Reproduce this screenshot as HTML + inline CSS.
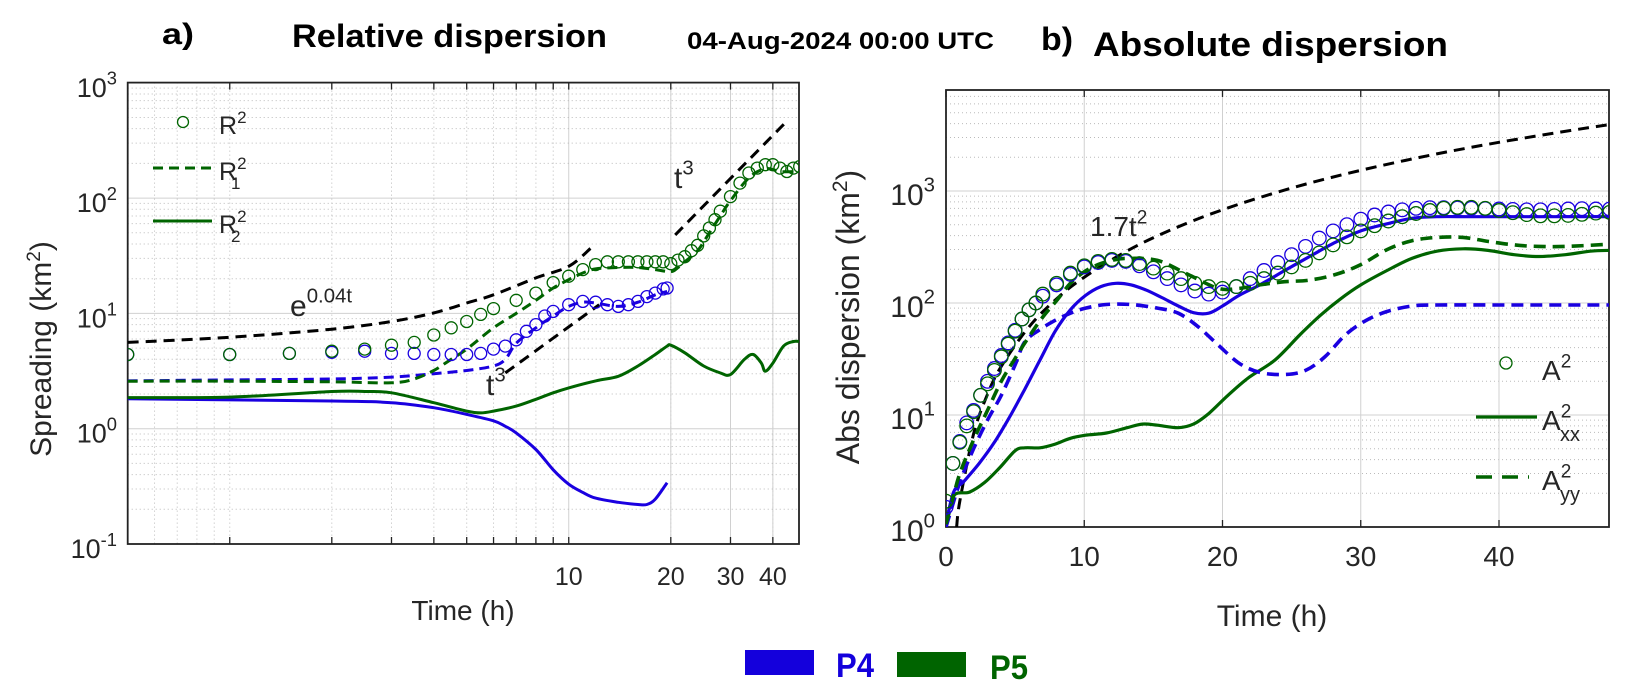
<!DOCTYPE html>
<html><head><meta charset="utf-8">
<style>
html,body{margin:0;padding:0;background:#fff;}
svg{display:block;font-family:"Liberation Sans",Arial,sans-serif;}
</style></head>
<body>
<svg id="chart" width="1633" height="689" viewBox="0 0 1633 689" xmlns="http://www.w3.org/2000/svg">
  <g font-weight="bold" fill="#000">
    <text x="162" y="44" font-size="30" textLength="32" lengthAdjust="spacingAndGlyphs">a)</text>
    <text x="292" y="47" font-size="32" textLength="315" lengthAdjust="spacingAndGlyphs">Relative dispersion</text>
    <text x="687" y="49" font-size="24" textLength="307" lengthAdjust="spacingAndGlyphs">04-Aug-2024 00:00 UTC</text>
    <text x="1041" y="50" font-size="32" textLength="32" lengthAdjust="spacingAndGlyphs">b)</text>
    <text x="1093" y="56" font-size="34" textLength="355" lengthAdjust="spacingAndGlyphs">Absolute dispersion</text>
  </g>
  <g id="left"></g>
  <g id="right"></g>
  <g font-weight="bold">
    <rect x="745" y="650" width="69" height="25" fill="#1400dc"/>
    <text x="836" y="677" font-size="34" fill="#1400dc" textLength="38" lengthAdjust="spacingAndGlyphs">P4</text>
    <rect x="897" y="652" width="69" height="25" fill="#006400"/>
    <text x="990" y="679" font-size="34" fill="#006400" textLength="38" lengthAdjust="spacingAndGlyphs">P5</text>
  </g>
</svg>
<script>
// ===== Panel a data (relative dispersion, log-log) =====
const tA = [0.5,1,1.5,2,2.5,3,3.5,4,4.5,5,5.5,6,7,8,9,10,11,12,13,14,15,16,17,18,19,20,21,22,23,24,25,26,27,28,30,32,34,36,38,40,42,44,46,48];
const R2_P5 = [4.4,4.4,4.5,4.7,4.9,5.3,5.6,6.5,7.5,8.5,9.8,11,13,15,18.5,21,24,26.5,28,28,28,28,28,28,28,27,29,31,35,39,47,55,65,77,103,135,165,182,195,195,182,170,182,188];
const tB = [0.5,1,1.5,2,2.5,3,3.5,4,4.5,5,5.5,6,6.5,7,7.5,8,8.5,9,10,11,12,13,14,15,16,17,18,19,19.5];
const R2_P4 = [4.4,4.4,4.5,4.6,4.7,4.5,4.5,4.4,4.4,4.4,4.5,4.9,5.2,5.9,7,8,9.5,10.4,11.9,12.7,12.5,11.9,11.5,11.9,12.7,14,15,16.3,16.6];
const tR1g = [0.5,1,2,3,3.5,4,4.5,5,6,7,8,9,10,11,12,14,16,18,20,21,22,24,26,28,30,34,38,42,46,48];
const R1_P5 = [2.58,2.58,2.55,2.5,2.7,3.2,4,4.9,7.5,10,13,16.6,19.6,22.4,24.3,25,25,24,23,25,28,35,50,70,95,150,180,170,170,175];
const tR1b = [0.5,1,2,3,4,5,6,6.5,7,8,9,10,11,12,14,16,18,19.5];
const R1_P4 = [2.6,2.65,2.7,2.8,3.0,3.2,3.5,4.0,5.5,7.5,9.5,11.5,12.5,12.3,11.5,12.5,14.5,15.5];
const tR2g = [0.5,1,2,2.5,3,4,5,5.5,6,7,8,9,10,12,14,16,18,19.5,20,22,25,28,30,33,35,37,38,40,43,46,48];
const R2g = [1.86,1.88,2.1,2.1,2.05,1.68,1.42,1.37,1.42,1.57,1.8,2.05,2.26,2.6,2.85,3.5,4.4,5.2,5.3,4.55,3.5,3.05,2.95,4.0,4.4,3.7,3.15,3.7,5.2,5.7,5.7];
const tR2b = [0.5,2,3,4,5,6,6.5,7,8,9,10,11,12,14,16,17,18,19.5];
const R2b = [1.82,1.74,1.68,1.52,1.33,1.17,1.05,0.92,0.66,0.44,0.33,0.28,0.25,0.23,0.22,0.22,0.245,0.34];
const guideExpT = [0.5,1,2,3,4,5,6,8,10,11.6];
const guideExpV = [5.6,6.2,7.3,8.5,10.1,12.3,14.5,20.3,25.6,36.7];
const guideT3aT = [6.5,12.3], guideT3aV = [3.05,11.9];
const guideT3bT = [20.6,44.3], guideT3bV = [48,475];

// ===== Panel b data (absolute dispersion) =====
const tC = [0,0.5,1,1.5,2,2.5,3,3.5,4,4.5,5,5.5,6,6.5,7,8,9,10,11,12,13,14,15,16,17,18,19,20,21,22,23,24,25,26,27,28,29,30,31,32,33,34,35,36,37,38,39,40,41,42,43,44,45,46,47,48];
const A2_P5 = [1.7,3.7,5.7,8,10.7,15,19,25,33,43,56,72,87,100,120,150,185,215,235,245,240,225,205,185,165,150,140,135,140,150,165,185,210,240,280,330,390,440,490,540,590,630,670,700,715,715,700,670,640,615,600,600,605,620,635,645];
const A2_P4 = [1.5,3.7,5.8,8.5,11,15,20,26,34,44,57,72,87,100,115,145,180,210,230,240,235,215,190,165,145,128,120,125,140,165,195,230,270,320,380,440,500,560,610,650,680,700,710,710,705,700,695,690,685,680,680,685,690,695,690,690];
const tXb = [0,0.55,1.3,2.4,3.5,4.6,5.7,6.8,7.9,9,10.1,11.2,12.3,13.4,14.5,15.6,16.8,17.9,19,20,21.2,22.7,24.5,26.3,28.2,30,31.9,33.7,35.5,38,42,45,48];
const Axx_P4 = [1.06,2.05,2.56,3.7,5.7,9.6,17,31,56,87,117,140,150,145,130,112,94,82,81,94,117,145,195,260,350,440,510,570,590,590,590,590,590];
const tYb = [0,1,2,3,4,5,5.7,6.8,7.9,9,10.1,11.6,13.4,15.3,16.8,18.2,19.7,21.2,22.7,24.5,26,27.4,28.9,30.4,31.9,33.7,35.5,40,44,48];
const Ayy_P4 = [1,2.5,5,9,15,28,45,58,70,81,90,97,97,90,81,62,42,29,24,23,25,33,52,70,84,94,96,96,96,96];
const tXg = [0,0.55,1.7,2.8,3.9,5,5.7,6.8,7.9,9,10.1,11.6,13.1,14.2,15.3,16.8,17.9,19,20.4,21.9,23.8,25.6,27.1,28.5,30,31.9,33.7,35.5,37.4,39.2,41.1,42.9,44.8,46.6,48];
const Axx_P5 = [1.06,1.9,2.05,2.5,3.4,4.8,5.1,5.1,5.5,6.2,6.6,6.9,7.7,8.3,8.1,7.7,8.3,10.3,15,21.6,31,52,78,108,145,195,250,290,305,295,270,260,270,290,295];
const tYg = [0,0.5,1,2,3,4,5,6,7,8,9,10,11,12,13.1,15.3,17.5,19.7,21.2,22.7,24.5,26.3,28.2,30,31.9,33.7,35.5,37.4,39.2,41.1,42.9,44.8,48];
const Ayy_P5 = [1.06,1.8,3,6,11,20,32,50,75,105,150,190,220,240,250,240,180,135,135,145,155,160,180,220,300,360,385,385,355,330,320,320,335];
const guideT2T = [0.77,1,2,3,4,6,8,10,13,16,20,25,30,35,40,45,48];
const guideT2V = [1,1.7,6.8,15.3,27.2,61.2,109,170,287,435,680,1063,1530,2083,2720,3443,3917];

const NS = "http://www.w3.org/2000/svg";
const BLUE = "#1a00e0", GREEN = "#006400", TXT = "#262626";

function mk(parent, tag, attrs) {
  const e = document.createElementNS(NS, tag);
  for (const k in attrs) e.setAttribute(k, attrs[k]);
  parent.appendChild(e);
  return e;
}
function smoothPath(pts) {
  if (pts.length < 2) return "";
  let d = "M" + pts[0][0].toFixed(1) + "," + pts[0][1].toFixed(1);
  for (let i = 0; i < pts.length - 1; i++) {
    const p0 = pts[Math.max(0, i - 1)], p1 = pts[i], p2 = pts[i + 1], p3 = pts[Math.min(pts.length - 1, i + 2)];
    const c1x = p1[0] + (p2[0] - p0[0]) / 6, c1y = p1[1] + (p2[1] - p0[1]) / 6;
    const c2x = p2[0] - (p3[0] - p1[0]) / 6, c2y = p2[1] - (p3[1] - p1[1]) / 6;
    d += " C" + c1x.toFixed(1) + "," + c1y.toFixed(1) + " " + c2x.toFixed(1) + "," + c2y.toFixed(1) + " " + p2[0].toFixed(1) + "," + p2[1].toFixed(1);
  }
  return d;
}
function drawLine(g, xs, vs, fx, fy, color, width, dash, name) {
  const pts = xs.map((t, i) => [fx(t), fy(vs[i])]);
  const p = mk(g, "path", {d: smoothPath(pts), fill: "none", stroke: color, "stroke-width": width, "stroke-dasharray": dash || "none"});
  
  
  return p;
}
function drawCircles(g, xs, vs, fx, fy, color, r, name) {
  const grp = mk(g, "g", {});
  
  
  xs.forEach((t, i) => {
    const c = mk(grp, "circle", {cx: fx(t).toFixed(1), cy: fy(vs[i]).toFixed(1), r: r, fill: "none", stroke: color, "stroke-width": 1.3});
    
    
  });
}
function powLabel(g, x, y, base, exp, anchor, size, name) {
  const t = mk(g, "text", {x: x, y: y, "font-size": size, fill: TXT, "text-anchor": anchor});
  
  
  const a = mk(t, "tspan", {}); a.textContent = base;
  const b = mk(t, "tspan", {dy: -size * 0.45, "font-size": size * 0.68}); b.textContent = exp;
  return t;
}

// ================= Panel a =================
(function () {
  const g = document.getElementById("left");
  const X0 = 127.7, X1 = 799, Y0 = 544, Y1 = 82.6;
  const xL = t => X0 + 339 * (Math.log10(t) - Math.log10(0.5));
  const yL = v => Y0 - 115.3 * (Math.log10(v) + 1);
  const clip = mk(g, "clipPath", {id: "clipL"});
  mk(clip, "rect", {x: X0, y: Y1, width: X1 - X0, height: Y0 - Y1});
  // grid
  const grid = mk(g, "g", {});
  
  
  const xminor = [0.6,0.7,0.8,0.9,1,2,3,4,5,6,7,8,9,20,30,40];
  xminor.forEach(t => mk(grid, "line", {x1: xL(t), x2: xL(t), y1: Y1, y2: Y0, stroke: "#bbb", "stroke-width": 1, "stroke-dasharray": "1,3"}));
  [10,20,30,40].forEach(t => mk(grid, "line", {x1: xL(t), x2: xL(t), y1: Y1, y2: Y0, stroke: "#d0d0d0", "stroke-width": 1}));
  for (let e = -1; e < 3; e++) for (let k = 2; k <= 9; k++) {
    const v = k * Math.pow(10, e);
    mk(grid, "line", {x1: X0, x2: X1, y1: yL(v), y2: yL(v), stroke: "#bbb", "stroke-width": 1, "stroke-dasharray": "1,3"});
  }
  [1, 10, 100].forEach(v => mk(grid, "line", {x1: X0, x2: X1, y1: yL(v), y2: yL(v), stroke: "#d0d0d0", "stroke-width": 1}));
  // axes box
  const box = mk(g, "rect", {x: X0, y: Y1, width: X1 - X0, height: Y0 - Y1, fill: "none", stroke: "#222", "stroke-width": 1.8});
  
  
  [1,2,3,4,5,6,7,8,9,10,20,30,40].forEach(t => {
    mk(g, "line", {x1: xL(t), x2: xL(t), y1: Y0, y2: Y0 - 7, stroke: "#222", "stroke-width": 1.3});
    mk(g, "line", {x1: xL(t), x2: xL(t), y1: Y1, y2: Y1 + 7, stroke: "#222", "stroke-width": 1.3});
  });
  // tick labels
  const xticks = [10, 20, 30, 40];
  xticks.forEach(t => {
    const tx = mk(g, "text", {x: xL(t), y: 585, "font-size": 25, fill: TXT, "text-anchor": "middle"});
    tx.textContent = t;
    
    
  });
  const yexp = [-1, 0, 1, 2, 3];
  yexp.forEach(e => powLabel(g, 117, yL(Math.pow(10, e)) + 14, "10", e, "end", 27, "y-tick-label"));
  const xt = mk(g, "text", {x: 463, y: 620, "font-size": 28, fill: TXT, "text-anchor": "middle"});
  xt.textContent = "Time (h)";
  
  
  const yt = mk(g, "text", {transform: "translate(51,349) rotate(-90)", "font-size": 30, fill: TXT, "text-anchor": "middle"});
  
  
  mk(yt, "tspan", {}).textContent = "Spreading (km";
  mk(yt, "tspan", {dy: -11, "font-size": 19}).textContent = "2";
  mk(yt, "tspan", {dy: 11}).textContent = ")";

  const plot = mk(g, "g", {"clip-path": "url(#clipL)"});
  
  
  drawLine(plot, tR2b, R2b, xL, yL, BLUE, 3, null, "r2-2-p4-line");
  drawLine(plot, tR2g, R2g, xL, yL, GREEN, 3, null, "r2-2-p5-line");
  drawLine(plot, tR1b, R1_P4, xL, yL, BLUE, 3, "10,6", "r1-2-p4-line");
  drawLine(plot, tR1g, R1_P5, xL, yL, GREEN, 3, "10,6", "r1-2-p5-line");
  drawLine(plot, guideExpT, guideExpV, xL, yL, "#000", 3, "11,7", "exp-guide-line");
  drawLine(plot, guideT3aT, guideT3aV, xL, yL, "#000", 3, "11,7", "t3-guide-lower");
  drawLine(plot, guideT3bT, guideT3bV, xL, yL, "#000", 3, "11,7", "t3-guide-upper");
  drawCircles(plot, tB, R2_P4, xL, yL, BLUE, 6, "r2-p4-markers");
  drawCircles(plot, tA, R2_P5, xL, yL, GREEN, 6, "r2-p5-markers");
  // annotations
  const ann = mk(g, "g", {"font-size": 28, fill: "#111"});
  
  
  powLabel(ann, 290, 316, "e", "0.04t", "start", 30, "exp-annotation");
  powLabel(ann, 486, 395, "t", "3", "start", 30, "t3-annotation-lower");
  powLabel(ann, 674, 188, "t", "3", "start", 30, "t3-annotation-upper");
  // legend
  const lg = mk(g, "g", {});
  
  
  mk(lg, "circle", {cx: 183, cy: 122, r: 5.5, fill: "none", stroke: GREEN, "stroke-width": 1.3});
  powLabel(lg, 219, 134, "R", "2", "start", 25, "legend-r2");
  mk(lg, "line", {x1: 153, x2: 212, y1: 168, y2: 168, stroke: GREEN, "stroke-width": 3, "stroke-dasharray": "10,6"});
  const l1 = powLabel(lg, 219, 180, "R", "2", "start", 25, "legend-r1-2");
  mk(lg, "text", {x: 231, y: 189, "font-size": 17, fill: TXT}).textContent = "1";
  mk(lg, "line", {x1: 153, x2: 212, y1: 221, y2: 221, stroke: GREEN, "stroke-width": 3});
  powLabel(lg, 219, 233, "R", "2", "start", 25, "legend-r2-2");
  mk(lg, "text", {x: 231, y: 242, "font-size": 17, fill: TXT}).textContent = "2";
})();

// ================= Panel b =================
(function () {
  const g = document.getElementById("right");
  const X0 = 946, X1 = 1609, Y0 = 527, Y1 = 90;
  const xR = t => X0 + 13.825 * t;
  const yR = v => Y0 - 112 * Math.log10(v);
  const clip = mk(g, "clipPath", {id: "clipR"});
  mk(clip, "rect", {x: X0, y: Y1, width: X1 - X0, height: Y0 - Y1});
  const grid = mk(g, "g", {});
  
  
  for (let e = 0; e < 4; e++) for (let k = 2; k <= 9; k++) {
    const v = k * Math.pow(10, e);
    if (yR(v) < Y1) continue;
    mk(grid, "line", {x1: X0, x2: X1, y1: yR(v), y2: yR(v), stroke: "#bbb", "stroke-width": 1, "stroke-dasharray": "1,3"});
  }
  [10, 100, 1000].forEach(v => mk(grid, "line", {x1: X0, x2: X1, y1: yR(v), y2: yR(v), stroke: "#d0d0d0", "stroke-width": 1}));
  [10, 20, 30, 40].forEach(t => mk(grid, "line", {x1: xR(t), x2: xR(t), y1: Y1, y2: Y0, stroke: "#d0d0d0", "stroke-width": 1}));
  const box = mk(g, "rect", {x: X0, y: Y1, width: X1 - X0, height: Y0 - Y1, fill: "none", stroke: "#222", "stroke-width": 1.8});
  
  
  const xticks = [0, 10, 20, 30, 40];
  xticks.forEach(t => {
    mk(g, "line", {x1: xR(t), x2: xR(t), y1: Y0, y2: Y0 - 7, stroke: "#222", "stroke-width": 1.3});
    mk(g, "line", {x1: xR(t), x2: xR(t), y1: Y1, y2: Y1 + 7, stroke: "#222", "stroke-width": 1.3});
    const tx = mk(g, "text", {x: xR(t), y: 566, "font-size": 28, fill: TXT, "text-anchor": "middle"});
    tx.textContent = t;
    
    
  });
  const yexp = [0, 1, 2, 3];
  yexp.forEach(e => powLabel(g, 935, yR(Math.pow(10, e)) + 14, "10", e, "end", 30, "y-tick-label"));
  const xt = mk(g, "text", {x: 1272, y: 626, "font-size": 30, fill: TXT, "text-anchor": "middle"});
  xt.textContent = "Time (h)";
  
  
  const yt = mk(g, "text", {transform: "translate(859,317) rotate(-90)", "font-size": 32, fill: TXT, "text-anchor": "middle"});
  
  
  mk(yt, "tspan", {}).textContent = "Abs dispersion (km";
  mk(yt, "tspan", {dy: -12, "font-size": 21}).textContent = "2";
  mk(yt, "tspan", {dy: 12}).textContent = ")";

  const plot = mk(g, "g", {"clip-path": "url(#clipR)"});
  
  
  drawLine(plot, guideT2T, guideT2V, xR, yR, "#000", 3, "11,7", "t2-guide-line");
  drawLine(plot, tXg, Axx_P5, xR, yR, GREEN, 3.2, null, "axx-p5-line");
  drawLine(plot, tXb, Axx_P4, xR, yR, BLUE, 3.2, null, "axx-p4-line");
  drawLine(plot, tYb, Ayy_P4, xR, yR, BLUE, 3.6, "12,7", "ayy-p4-line");
  drawLine(plot, tYg, Ayy_P5, xR, yR, GREEN, 3.6, "12,7", "ayy-p5-line");
  drawCircles(plot, tC, A2_P4, xR, yR, BLUE, 6.8, "a2-p4-markers");
  drawCircles(plot, tC, A2_P5, xR, yR, GREEN, 6.8, "a2-p5-markers");
  powLabel(g, 1090, 236, "1.7t", "2", "start", 28, "t2-annotation");
  const lg = mk(g, "g", {});
  
  
  mk(lg, "circle", {cx: 1506, cy: 363, r: 6, fill: "none", stroke: GREEN, "stroke-width": 1.3});
  powLabel(lg, 1542, 380, "A", "2", "start", 28, "legend-a2");
  mk(lg, "line", {x1: 1476, x2: 1537, y1: 417, y2: 417, stroke: GREEN, "stroke-width": 3.2});
  powLabel(lg, 1542, 430, "A", "2", "start", 28, "legend-axx");
  mk(lg, "text", {x: 1560, y: 441, "font-size": 20, fill: TXT}).textContent = "xx";
  mk(lg, "line", {x1: 1476, x2: 1529, y1: 477, y2: 477, stroke: GREEN, "stroke-width": 3.6, "stroke-dasharray": "16,10"});
  powLabel(lg, 1542, 490, "A", "2", "start", 28, "legend-ayy");
  mk(lg, "text", {x: 1560, y: 501, "font-size": 20, fill: TXT}).textContent = "yy";
})();
</script>
</body></html>
